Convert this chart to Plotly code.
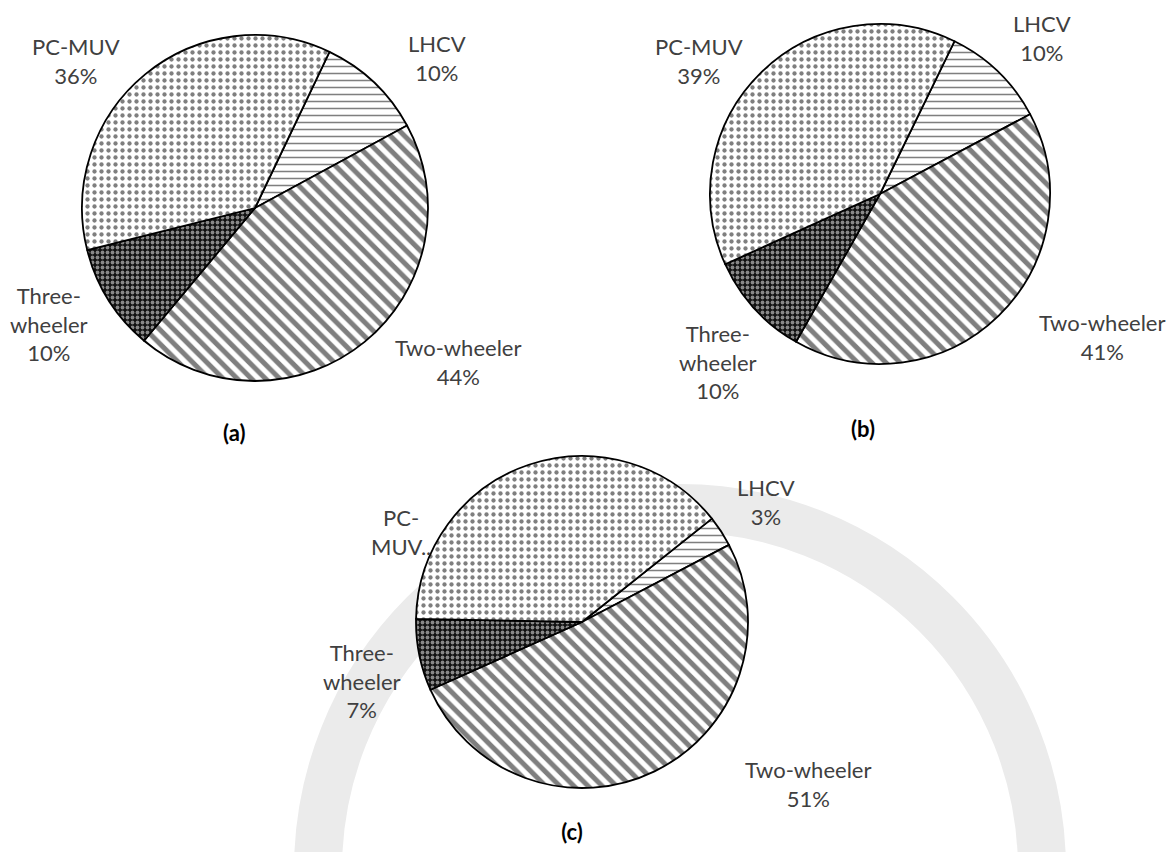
import plotly.graph_objects as go

# Vehicle categories, in clockwise drawing order
categories = ["LHCV", "Two-wheeler", "Three-wheeler", "PC-MUV"]

# Percentage shares for each panel
share_a = [10, 44, 10, 36]
share_b = [10, 41, 10, 39]
share_c = [3, 51, 7, 39]

panel_tags = ["(a)", "(b)", "(c)"]

W, H = 1171, 852


def px(x, y):
    """Convert pixel position to paper coordinates."""
    return x / W, 1 - y / H


def pie_domain(cx, cy, r):
    return dict(x=[(cx - r) / W, (cx + r) / W], y=[1 - (cy + r) / H, 1 - (cy - r) / H])


# Fill patterns per category: dashes, bold diagonal stripes, dark dotted mesh, fine dots
pat_shape = ["-", "\\", ".", "."]
pat_size = [7, 10, 5, 7]
pat_solid = [0.22, 0.5, 0.45, 0.3]
pat_fg = ["black", "black", "white", "black"]
pat_bg = ["white", "white", "#111111", "white"]

panels = [
    dict(vals=share_a, cx=255, cy=208, r=173, rot=25.5),
    dict(vals=share_b, cx=880, cy=194, r=170, rot=26),
    dict(vals=share_c, cx=582, cy=622, r=166, rot=51.5),
]

fig = go.Figure()

for p in panels:
    fig.add_trace(go.Pie(
        labels=categories,
        values=p["vals"],
        sort=False,
        direction="clockwise",
        rotation=p["rot"],
        textinfo="none",
        hoverinfo="label+percent",
        showlegend=False,
        domain=pie_domain(p["cx"], p["cy"], p["r"]),
        marker=dict(
            colors=pat_bg,
            line=dict(color="black", width=1.8),
            pattern=dict(shape=pat_shape, size=pat_size, solidity=pat_solid,
                         fgcolor=pat_fg, bgcolor=pat_bg, fillmode="overlay"),
        ),
    ))

# Data label text per panel (category name wrapped, then share)
wrapped = {"LHCV": "LHCV", "Two-wheeler": "Two-wheeler",
           "Three-wheeler": "Three-<br>wheeler", "PC-MUV": "PC-MUV"}


def label_text(cat, val, truncated=False):
    if truncated:
        return "PC-<br>MUV.."
    return f"{wrapped[cat]}<br>{val}%"


label_pos = [
    {"LHCV": (437, 58), "Two-wheeler": (458, 362), "Three-wheeler": (49, 324), "PC-MUV": (76, 61)},
    {"LHCV": (1042, 38), "Two-wheeler": (1102, 337), "Three-wheeler": (718, 362), "PC-MUV": (699, 61)},
    {"LHCV": (766, 502), "Two-wheeler": (808, 784), "Three-wheeler": (362, 681), "PC-MUV": (401, 532)},
]
tag_pos = [(234, 432), (863, 428), (572, 831)]

annotations = []
label_font = dict(family="Lato, Open Sans, sans-serif", size=22, color="#404040")
for i, p in enumerate(panels):
    for cat, val in zip(categories, p["vals"]):
        x, y = px(*label_pos[i][cat])
        txt = label_text(cat, val, truncated=(i == 2 and cat == "PC-MUV"))
        annotations.append(dict(x=x, y=y, xref="paper", yref="paper", text=txt,
                                showarrow=False, xanchor="center", yanchor="middle",
                                font=label_font, align="center"))
    tx, ty = px(*tag_pos[i])
    ann = dict(x=tx, y=ty, xref="paper", yref="paper", text=f"<b>{panel_tags[i]}</b>",
               showarrow=False, xanchor="center", yanchor="middle",
               font=dict(family="Lato, Open Sans, sans-serif", size=22, color="black"))
    if i == 2:
        ann.update(bgcolor="white", width=72, height=48)
    annotations.append(ann)

# Faint background emblem ring
rc_x, rc_y, rr = 680, 870, 362
x0, y1 = px(rc_x - rr, rc_y - rr)
x1, y0 = px(rc_x + rr, rc_y + rr)
shapes = [dict(type="circle", xref="paper", yref="paper", x0=x0, x1=x1, y0=y0, y1=y1,
               line=dict(color="#ebebeb", width=48), layer="below")]

fig.update_layout(
    width=W, height=H,
    margin=dict(l=0, r=0, t=0, b=0),
    paper_bgcolor="white", plot_bgcolor="white",
    annotations=annotations,
    shapes=shapes,
)

fig.write_html("out.html")
